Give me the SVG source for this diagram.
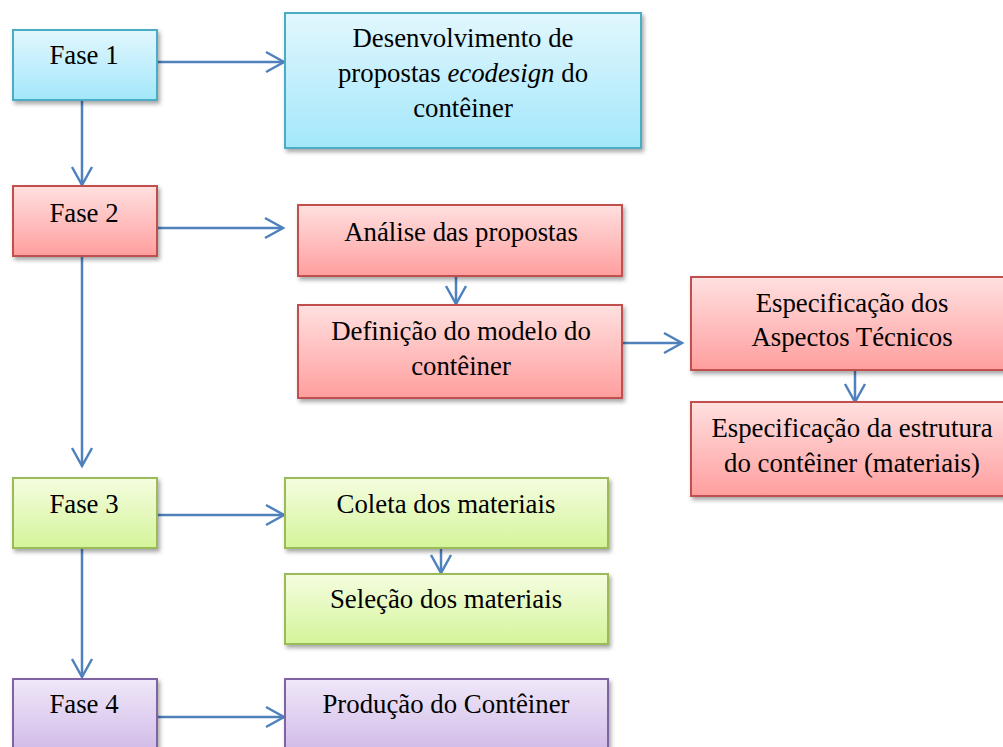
<svg xmlns="http://www.w3.org/2000/svg" width="1003" height="747" viewBox="0 0 1003 747">
<style>
text{font-family:'Times New Roman','Liberation Serif',Tinos,'DejaVu Serif',serif;font-size:26.8px;fill:#000;text-anchor:middle}
.b{fill:url(#gb);stroke:#4BACC6;stroke-width:2}
.r{fill:url(#gr);stroke:#C0504D;stroke-width:2}
.g{fill:url(#gg);stroke:#9BBB59;stroke-width:2}
.p{fill:url(#gp);stroke:#8064A2;stroke-width:2}
rect{filter:url(#sh)}
.c path{fill:none;stroke:#4F81BD;stroke-width:2.5;marker-end:url(#ah)}
</style>
<defs>
<linearGradient id="gb" x1="0" y1="0" x2="0" y2="1"><stop offset="0" stop-color="#E2F7FD"/><stop offset="1" stop-color="#A3E7FB"/></linearGradient>
<linearGradient id="gr" x1="0" y1="0" x2="0" y2="1"><stop offset="0" stop-color="#FFE0E0"/><stop offset="1" stop-color="#FF9E9E"/></linearGradient>
<linearGradient id="gg" x1="0" y1="0" x2="0" y2="1"><stop offset="0" stop-color="#F5FDE0"/><stop offset="1" stop-color="#D4F49A"/></linearGradient>
<linearGradient id="gp" x1="0" y1="0" x2="0" y2="1"><stop offset="0" stop-color="#F0E8F9"/><stop offset="1" stop-color="#CDB6E6"/></linearGradient>
<filter id="sh" x="-10%" y="-10%" width="130%" height="140%"><feDropShadow dx="2" dy="3" stdDeviation="2" flood-color="#000" flood-opacity="0.35"/></filter>
<marker id="ah" markerUnits="userSpaceOnUse" viewBox="-21 -13 24 26" markerWidth="24" markerHeight="26" refX="0" refY="0" orient="auto"><path d="M-18,-10 L0,0 L-18,10" fill="none" stroke="#4F81BD" stroke-width="2.5" stroke-linejoin="miter"/></marker>
</defs>
<g id="connectors" class="c">
<path d="M158,62 H284"/>
<path d="M82,101 V185"/>
<path d="M158,228 H283"/>
<path d="M456,277 V304"/>
<path d="M623,343 H682"/>
<path d="M855,371 V402"/>
<path d="M82,257 V466"/>
<path d="M158,515 H284"/>
<path d="M441,549 V573"/>
<path d="M82,549 V677"/>
<path d="M158,717 H284"/>
</g>
<g id="fase1"><rect class="b" x="13" y="30" width="144" height="70"/><text x="84" y="64">Fase 1</text></g>
<g id="desenvolvimento"><rect class="b" x="285" y="13" width="356" height="135"/><text x="463" y="47">Desenvolvimento de</text><text x="463" y="82">propostas <tspan font-style="italic">ecodesign</tspan> do</text><text x="463" y="117">contêiner</text></g>
<g id="fase2"><rect class="r" x="13" y="186" width="144" height="70"/><text x="84" y="222">Fase 2</text></g>
<g id="analise"><rect class="r" x="298" y="205" width="324" height="71"/><text x="461" y="241">Análise das propostas</text></g>
<g id="definicao"><rect class="r" x="298" y="305" width="324" height="93"/><text x="461" y="340">Definição do modelo do</text><text x="461" y="375">contêiner</text></g>
<g id="aspectos"><rect class="r" x="691" y="277" width="322" height="93"/><text x="852" y="312">Especificação dos</text><text x="852" y="346">Aspectos Técnicos</text></g>
<g id="estrutura"><rect class="r" x="691" y="402" width="322" height="94"/><text x="852" y="437">Especificação da estrutura</text><text x="852" y="472">do contêiner (materiais)</text></g>
<g id="fase3"><rect class="g" x="13" y="478" width="144" height="70"/><text x="84" y="513">Fase 3</text></g>
<g id="coleta"><rect class="g" x="285" y="478" width="323" height="70"/><text x="446" y="513">Coleta dos materiais</text></g>
<g id="selecao"><rect class="g" x="285" y="574" width="323" height="70"/><text x="446" y="608">Seleção dos materiais</text></g>
<g id="fase4"><rect class="p" x="13" y="679" width="144" height="80"/><text x="84" y="713">Fase 4</text></g>
<g id="producao"><rect class="p" x="285" y="679" width="323" height="80"/><text x="446" y="713">Produção do Contêiner</text></g>
</svg>
